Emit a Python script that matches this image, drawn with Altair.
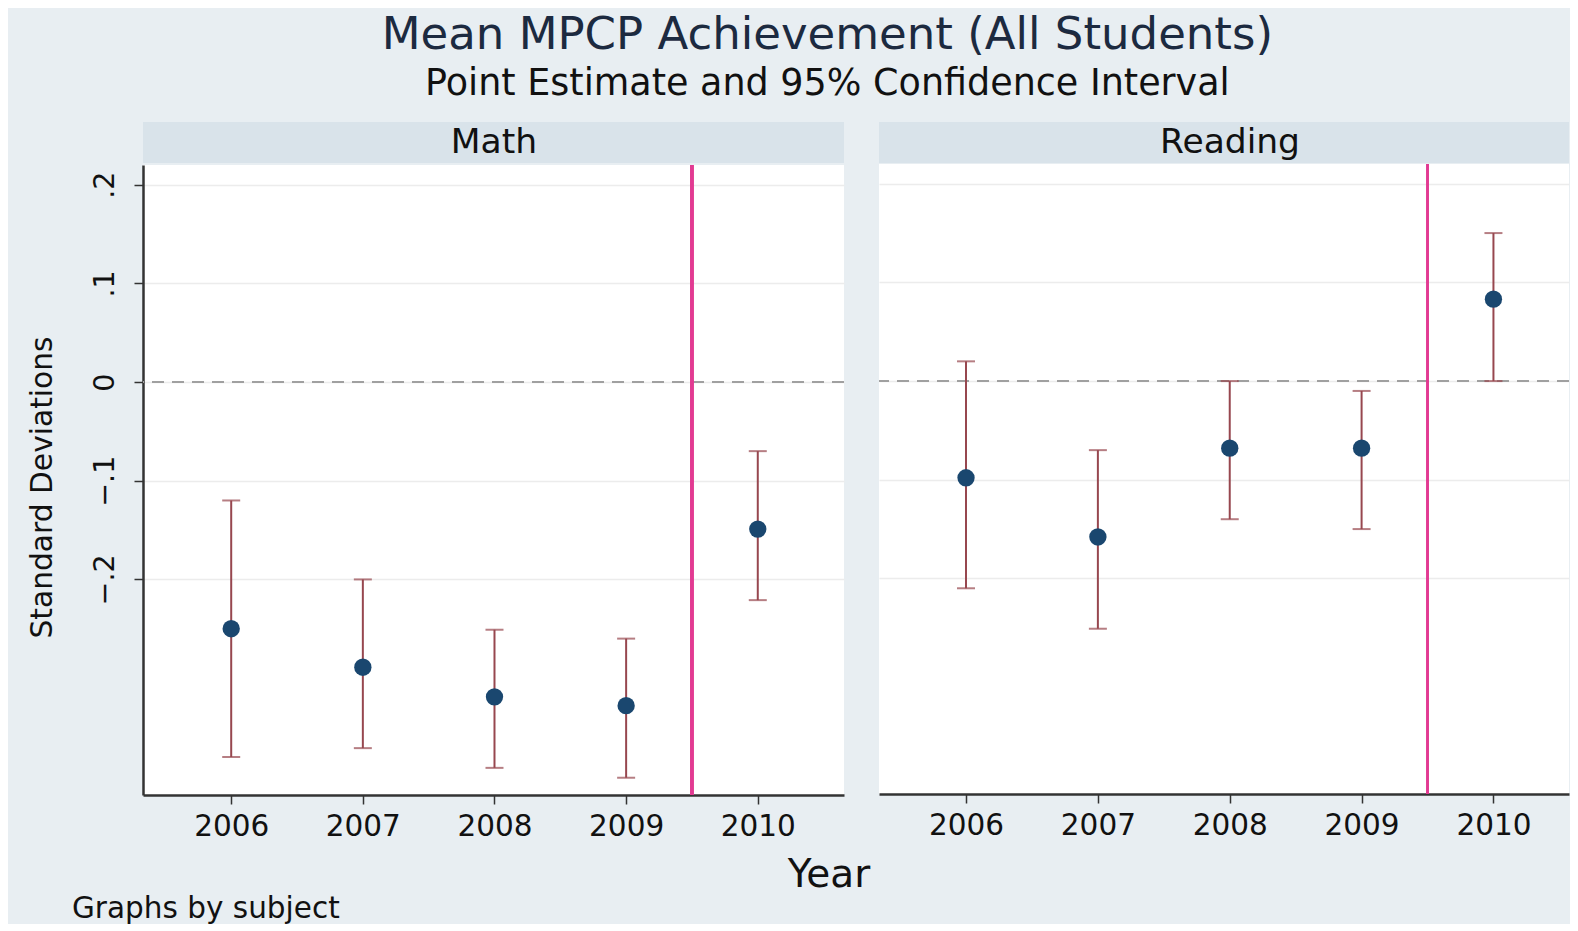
import altair as alt
import pandas as pd

# ---- data ----
years = [2006, 2007, 2008, 2009, 2010]
subjects = ["Math", "Reading"]
math_est = [-0.250, -0.289, -0.319, -0.328, -0.149]
math_lo = [-0.380, -0.371, -0.391, -0.401, -0.221]
math_hi = [-0.120, -0.200, -0.251, -0.260, -0.070]
read_est = [-0.098, -0.158, -0.068, -0.068, 0.083]
read_lo = [-0.210, -0.251, -0.140, -0.150, 0.000]
read_hi = [0.020, -0.070, 0.000, -0.010, 0.150]
y_ticks = [-0.2, -0.1, 0.0, 0.1, 0.2]
policy_line = 2009.5
ref_zero = 0.0
footer_texts = ["Year", "Graphs by subject"]

FONT = "DejaVu Sans"
BG = "#e8eef2"
STRIP = "#d9e3ea"
NAVY = "#1a476f"
MAROON = "#97474f"
PINK = "#e23a92"
AX = "#333333"

PW = 701
PW2 = 690
PH = 630
SH = 41

xs1 = alt.Scale(domain=[2005.33, 2010.655], nice=False, zero=False)
xs2 = alt.Scale(domain=[2005.34, 2010.573], nice=False, zero=False)
ys = alt.Scale(domain=[-0.4185, 0.22], nice=False, zero=False)


def make_panel(subject, est, lo, hi, first, width, xs):
    df = pd.DataFrame({"year": years, "est": est, "lo": lo, "hi": hi})
    xaxis = alt.Axis(values=years, format="d", title=None, grid=False,
                     domainColor=AX, domainWidth=2.5, tickColor=AX,
                     tickSize=9, tickWidth=1.5, labelFontSize=29.5,
                     labelPadding=8, labelColor="#111", labelFont=FONT,
                     labelFlush=False)
    if first:
        yaxis = alt.Axis(values=y_ticks, title="Standard Deviations",
                         labelExpr="datum.value == 0 ? '0' : replace(format(datum.value, '.1f'), '0.', '.')",
                         labelAngle=270, labelAlign="center", labelBaseline="bottom",
                         labelFontSize=28.5, labelFont=FONT, labelColor="#111",
                         tickSize=9, tickColor=AX, tickWidth=1.5, labelPadding=15,
                         domainColor=AX, domainWidth=2.5, grid=True,
                         gridColor="#ececec", gridWidth=1.5,
                         titleFontSize=29.7, titleFont=FONT, titleColor="#111",
                         titleFontWeight="normal", titleX=-101, titleY=322,
                         titleBaseline="middle", labelFlush=False)
    else:
        yaxis = alt.Axis(values=y_ticks, title=None, labels=False, ticks=False,
                         domain=False, grid=True, gridColor="#ececec",
                         gridWidth=1.5)
    base = alt.Chart(df)
    X = alt.X("year:Q", scale=xs, axis=xaxis)
    zero = base.mark_rule(color="#a0a0a0", strokeDash=[12, 8], strokeWidth=1.5).encode(
        y=alt.YDatum(ref_zero, scale=ys, axis=yaxis))
    vline = base.mark_rule(color=PINK, strokeWidth=3 if first else 2).encode(
        x=alt.XDatum(policy_line, scale=xs, axis=xaxis))
    bars = base.mark_rule(color=MAROON, strokeWidth=2).encode(
        x=X, y=alt.Y("lo:Q", scale=ys, axis=yaxis), y2="hi:Q")
    cap_lo = base.mark_tick(orient="horizontal", size=18, thickness=2, color=MAROON).encode(
        x=X, y=alt.Y("lo:Q", scale=ys, axis=yaxis))
    cap_hi = base.mark_tick(orient="horizontal", size=18, thickness=2, color=MAROON).encode(
        x=X, y=alt.Y("hi:Q", scale=ys, axis=yaxis))
    pts = base.mark_circle(size=300, color=NAVY, opacity=1).encode(
        x=X, y=alt.Y("est:Q", scale=ys, axis=yaxis))
    plot = alt.layer(zero, vline, bars, cap_lo, cap_hi, pts).properties(
        width=width, height=PH,
        view=alt.ViewBackground(fill="white", stroke=None))

    sd = pd.DataFrame({"label": [subject]})
    sb = alt.Chart(sd)
    rect = sb.mark_rect(color=STRIP).encode(
        x=alt.value(0), x2=alt.value(width), y=alt.value(0), y2=alt.value(SH))
    txt = sb.mark_text(font=FONT, fontSize=34.5, color="#111", baseline="middle").encode(
        x=alt.value(351), y=alt.value(SH / 2), text="label:N")
    strip = alt.layer(rect, txt).properties(
        width=width, height=SH, view=alt.ViewBackground(stroke=None, fill=None))
    return alt.vconcat(strip, plot, spacing=0)


p1 = make_panel(subjects[0], math_est, math_lo, math_hi, True, PW, xs1)
p2 = make_panel(subjects[1], read_est, read_lo, read_hi, False, PW2, xs2)
panels = alt.hconcat(p1, p2, spacing=33)

fd1 = pd.DataFrame({"t": [footer_texts[0]]})
fd2 = pd.DataFrame({"t": [footer_texts[1]]})
f1 = alt.Chart(fd1).mark_text(font=FONT, fontSize=39, color="#111", align="center",
                              baseline="alphabetic").encode(
    x=alt.value(686), y=alt.value(45.5), text="t:N")
f2 = alt.Chart(fd2).mark_text(font=FONT, fontSize=29.5, color="#111", align="left",
                              baseline="alphabetic").encode(
    x=alt.value(-71), y=alt.value(77), text="t:N")
footer = alt.layer(f1, f2).properties(width=1000, height=83,
                                      view=alt.ViewBackground(stroke=None, fill=None))

chart = alt.vconcat(panels, footer, spacing=0).properties(
    title=alt.Title("Mean MPCP Achievement (All Students)",
                    subtitle="Point Estimate and 95% Confidence Interval",
                    fontSize=45, subtitleFontSize=36.5, font=FONT, subtitleFont=FONT,
                    fontWeight="normal", color="#1c2a40", subtitleColor="#111",
                    anchor="middle", dx=29, offset=19.5, subtitlePadding=8),
    padding={"left": 19, "top": 5, "right": 0, "bottom": 0},
    background=BG,
).configure_view(stroke=None)

chart.save("out.html", embed_options={"renderer": "svg", "actions": False})
